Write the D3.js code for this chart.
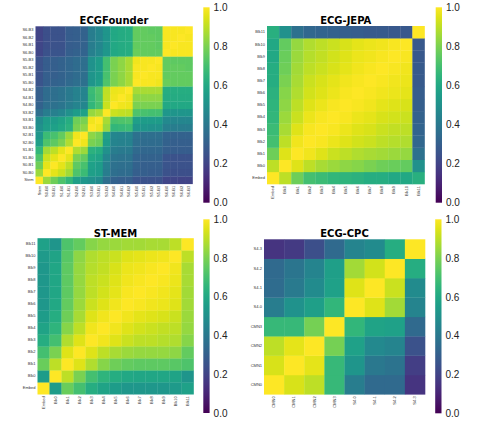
<!DOCTYPE html>
<html>
<head>
<meta charset="utf-8">
<script src="https://cdn.jsdelivr.net/npm/d3@7"></script>
<style>
body { margin: 0; background: #fff; }
svg { display: block; font-family: "DejaVu Sans", sans-serif; }
</style>
</head>
<body>
<svg id="chart" width="485" height="421"></svg>
<script>
// labels: first entry is bottom row / left column
const founderLabels = ['Stem', 'S0-B0', 'S0-B1', 'S1-B0', 'S1-B1', 'S2-B0', 'S2-B1', 'S3-B0', 'S3-B1', 'S3-B2',
  'S4-B0', 'S4-B1', 'S4-B2', 'S5-B0', 'S5-B1', 'S5-B2', 'S5-B3', 'S6-B0', 'S6-B1', 'S6-B2', 'S6-B3'];
const founderValues = [
  [1.00,0.85,0.78,0.72,0.66,0.56,0.53,0.50,0.48,0.36,0.31,0.30,0.30,0.26,0.25,0.25,0.25,0.21,0.21,0.20,0.20],
  [0.85,1.00,0.96,0.92,0.86,0.72,0.68,0.56,0.55,0.42,0.36,0.35,0.35,0.30,0.30,0.29,0.29,0.25,0.24,0.24,0.24],
  [0.78,0.96,1.00,0.96,0.90,0.75,0.71,0.57,0.55,0.43,0.37,0.36,0.36,0.31,0.30,0.30,0.30,0.26,0.25,0.25,0.25],
  [0.72,0.92,0.96,1.00,0.96,0.80,0.76,0.60,0.58,0.46,0.39,0.38,0.38,0.32,0.31,0.31,0.31,0.26,0.25,0.25,0.25],
  [0.66,0.86,0.90,0.96,1.00,0.88,0.85,0.64,0.62,0.50,0.42,0.41,0.41,0.34,0.33,0.33,0.33,0.30,0.29,0.29,0.29],
  [0.56,0.72,0.75,0.80,0.88,1.00,0.98,0.80,0.78,0.55,0.45,0.44,0.44,0.36,0.35,0.35,0.35,0.31,0.30,0.30,0.30],
  [0.53,0.68,0.71,0.76,0.85,0.98,1.00,0.83,0.80,0.57,0.46,0.45,0.45,0.37,0.36,0.36,0.36,0.32,0.31,0.31,0.31],
  [0.50,0.56,0.57,0.60,0.64,0.80,0.83,1.00,0.98,0.84,0.66,0.67,0.68,0.52,0.52,0.51,0.51,0.43,0.42,0.42,0.42],
  [0.48,0.55,0.55,0.58,0.62,0.78,0.80,0.98,1.00,0.87,0.71,0.72,0.73,0.56,0.55,0.55,0.55,0.47,0.46,0.46,0.46],
  [0.36,0.42,0.43,0.46,0.50,0.55,0.57,0.84,0.87,1.00,0.92,0.91,0.90,0.72,0.71,0.70,0.70,0.53,0.52,0.52,0.52],
  [0.31,0.36,0.37,0.39,0.42,0.45,0.46,0.66,0.71,0.92,1.00,0.98,0.97,0.80,0.80,0.80,0.80,0.60,0.60,0.60,0.60],
  [0.30,0.35,0.36,0.38,0.41,0.44,0.45,0.67,0.72,0.91,0.98,1.00,0.98,0.83,0.83,0.83,0.83,0.61,0.61,0.61,0.61],
  [0.30,0.35,0.36,0.38,0.41,0.44,0.45,0.68,0.73,0.90,0.97,0.98,1.00,0.87,0.87,0.87,0.87,0.62,0.62,0.62,0.62],
  [0.26,0.30,0.31,0.32,0.34,0.36,0.37,0.52,0.56,0.72,0.80,0.83,0.87,1.00,0.99,0.99,0.98,0.77,0.76,0.76,0.76],
  [0.25,0.30,0.30,0.31,0.33,0.35,0.36,0.52,0.55,0.71,0.80,0.83,0.87,0.99,1.00,0.99,0.99,0.76,0.76,0.76,0.76],
  [0.25,0.29,0.30,0.31,0.33,0.35,0.36,0.51,0.55,0.70,0.80,0.83,0.87,0.99,0.99,1.00,0.99,0.76,0.76,0.76,0.75],
  [0.25,0.29,0.30,0.31,0.33,0.35,0.36,0.51,0.55,0.70,0.80,0.83,0.87,0.98,0.99,0.99,1.00,0.76,0.75,0.75,0.75],
  [0.21,0.25,0.26,0.26,0.30,0.31,0.32,0.43,0.47,0.53,0.60,0.61,0.62,0.77,0.76,0.76,0.76,1.00,0.99,0.99,0.99],
  [0.21,0.24,0.25,0.25,0.29,0.30,0.31,0.42,0.46,0.52,0.60,0.61,0.62,0.76,0.76,0.76,0.75,0.99,1.00,0.99,0.99],
  [0.20,0.24,0.25,0.25,0.29,0.30,0.31,0.42,0.46,0.52,0.60,0.61,0.62,0.76,0.76,0.76,0.75,0.99,0.99,1.00,0.99],
  [0.20,0.24,0.25,0.25,0.29,0.30,0.31,0.42,0.46,0.52,0.60,0.61,0.62,0.76,0.76,0.75,0.75,0.99,0.99,0.99,1.00]
];

const jepaLabels = ['Embed', 'Blk0', 'Blk1', 'Blk2', 'Blk3', 'Blk4', 'Blk5', 'Blk6', 'Blk7', 'Blk8', 'Blk9', 'Blk10', 'Blk11'];
const jepaValues = [
  [1.00,0.90,0.78,0.70,0.68,0.66,0.65,0.64,0.62,0.62,0.60,0.60,0.63],
  [0.90,1.00,0.95,0.90,0.87,0.85,0.83,0.82,0.80,0.78,0.77,0.76,0.50],
  [0.78,0.95,1.00,0.98,0.95,0.92,0.90,0.88,0.87,0.86,0.85,0.84,0.37],
  [0.70,0.90,0.98,1.00,0.99,0.97,0.95,0.93,0.92,0.90,0.89,0.88,0.33],
  [0.68,0.87,0.95,0.99,1.00,0.99,0.97,0.95,0.94,0.92,0.91,0.90,0.32],
  [0.66,0.85,0.92,0.97,0.99,1.00,0.99,0.97,0.96,0.94,0.93,0.92,0.31],
  [0.65,0.83,0.90,0.95,0.97,0.99,1.00,0.99,0.98,0.96,0.95,0.94,0.30],
  [0.64,0.82,0.88,0.93,0.95,0.97,0.99,1.00,0.99,0.98,0.97,0.96,0.29],
  [0.62,0.80,0.87,0.92,0.94,0.96,0.98,0.99,1.00,0.99,0.98,0.97,0.28],
  [0.62,0.78,0.86,0.90,0.92,0.94,0.96,0.98,0.99,1.00,0.99,0.98,0.28],
  [0.60,0.77,0.85,0.89,0.91,0.93,0.95,0.97,0.98,0.99,1.00,0.99,0.27],
  [0.60,0.76,0.84,0.88,0.90,0.92,0.94,0.96,0.97,0.98,0.99,1.00,0.27],
  [0.63,0.50,0.37,0.33,0.32,0.31,0.30,0.29,0.28,0.28,0.27,0.27,1.00]
];

const memLabels = ['Embed', 'Blk0', 'Blk1', 'Blk2', 'Blk3', 'Blk4', 'Blk5', 'Blk6', 'Blk7', 'Blk8', 'Blk9', 'Blk10', 'Blk11'];
const memValues = [
  [1.00,0.55,0.77,0.70,0.62,0.58,0.55,0.53,0.53,0.53,0.53,0.54,0.57],
  [0.55,1.00,0.90,0.80,0.70,0.65,0.62,0.60,0.59,0.59,0.59,0.58,0.52],
  [0.77,0.90,1.00,0.95,0.88,0.82,0.78,0.76,0.75,0.75,0.75,0.74,0.72],
  [0.70,0.80,0.95,1.00,0.95,0.90,0.87,0.85,0.84,0.84,0.84,0.83,0.76],
  [0.62,0.70,0.88,0.95,1.00,0.98,0.95,0.92,0.90,0.90,0.89,0.88,0.82],
  [0.58,0.65,0.82,0.90,0.98,1.00,0.98,0.95,0.93,0.92,0.91,0.90,0.84],
  [0.55,0.62,0.78,0.87,0.95,0.98,1.00,0.98,0.96,0.95,0.94,0.92,0.85],
  [0.53,0.60,0.76,0.85,0.92,0.95,0.98,1.00,0.99,0.98,0.97,0.95,0.86],
  [0.53,0.59,0.75,0.84,0.90,0.93,0.96,0.99,1.00,0.99,0.98,0.96,0.86],
  [0.53,0.59,0.75,0.84,0.90,0.92,0.95,0.98,0.99,1.00,0.99,0.97,0.87],
  [0.53,0.59,0.75,0.84,0.89,0.91,0.94,0.97,0.98,0.99,1.00,0.98,0.87],
  [0.54,0.58,0.74,0.83,0.88,0.90,0.92,0.95,0.96,0.97,0.98,1.00,0.90],
  [0.57,0.52,0.72,0.76,0.82,0.84,0.85,0.86,0.86,0.87,0.87,0.90,1.00]
];

const cpcLabels = ['CMN0', 'CMN1', 'CMN2', 'CMN3', 'S4-0', 'S4-1', 'S4-2', 'S4-3'];
const cpcValues = [
  [1.00,0.94,0.90,0.67,0.42,0.34,0.34,0.15],
  [0.94,1.00,0.96,0.67,0.52,0.40,0.38,0.18],
  [0.90,0.96,1.00,0.79,0.57,0.47,0.45,0.25],
  [0.67,0.67,0.79,1.00,0.66,0.58,0.57,0.34],
  [0.42,0.51,0.56,0.66,1.00,0.95,0.86,0.45],
  [0.35,0.41,0.48,0.57,0.95,1.00,0.92,0.48],
  [0.34,0.39,0.45,0.56,0.86,0.93,1.00,0.62],
  [0.15,0.17,0.24,0.34,0.45,0.48,0.62,1.00]
];

const colorTicks = [0, 0.2, 0.4, 0.6, 0.8, 1.0];

const svg = d3.select('#chart');
const color = d3.scaleSequential(d3.interpolateViridis).domain([0, 1]);

// shared gradient for the colorbars
const grad = svg.append('defs').append('linearGradient')
  .attr('id', 'viridis')
  .attr('x1', 0).attr('y1', 1).attr('x2', 0).attr('y2', 0);
grad.selectAll('stop')
  .data(d3.range(0, 1.0001, 0.05))
  .join('stop')
  .attr('offset', d => d)
  .attr('stop-color', d => color(d));

const panels = [
  { title: 'ECGFounder', labels: founderLabels, values: founderValues,
    x: 35.5, y: 26.3, w: 157, h: 157.5, cbx: 203.3, cby: 7.3, cbh: 195.4, ty: 23.5 },
  { title: 'ECG-JEPA', labels: jepaLabels, values: jepaValues,
    x: 267, y: 26, w: 157.5, h: 158, cbx: 435.7, cby: 7.3, cbh: 195.4, ty: 23.5 },
  { title: 'ST-MEM', labels: memLabels, values: memValues,
    x: 37.5, y: 238.2, w: 156, h: 156, cbx: 203.3, cby: 219.3, cbh: 193.7, ty: 236.5 },
  { title: 'ECG-CPC', labels: cpcLabels, values: cpcValues,
    x: 264, y: 239.3, w: 161, h: 155, cbx: 435.2, cby: 219.3, cbh: 194, ty: 236.5 }
];

function drawHeatmap(p) {
  const g = svg.append('g');

  const xScale = d3.scaleBand().domain(p.labels).range([p.x, p.x + p.w]);
  const yScale = d3.scaleBand().domain(p.labels).range([p.y + p.h, p.y]);

  const cells = [];
  p.values.forEach((row, i) => row.forEach((v, j) => cells.push({ r: p.labels[i], c: p.labels[j], v })));

  g.selectAll('rect.cell')
    .data(cells)
    .join('rect')
    .classed('cell', true)
    .attr('x', d => xScale(d.c))
    .attr('y', d => yScale(d.r))
    .attr('width', xScale.bandwidth() + 0.3)
    .attr('height', yScale.bandwidth() + 0.3)
    .attr('fill', d => color(d.v));

  const yAxis = d3.axisLeft(yScale).tickSize(0).tickPadding(2);
  const yg = g.append('g')
    .attr('transform', `translate(${p.x}, 0)`)
    .call(yAxis);
  yg.select('.domain').remove();
  yg.selectAll('text').style('font-size', '4px').attr('fill', '#333');

  const xAxis = d3.axisBottom(xScale).tickSize(0);
  const xg = g.append('g')
    .attr('transform', `translate(0, ${p.y + p.h})`)
    .call(xAxis);
  xg.select('.domain').remove();
  xg.selectAll('text')
    .style('font-size', '4px')
    .attr('fill', '#333')
    .attr('transform', 'rotate(-90)')
    .attr('text-anchor', 'end')
    .attr('x', -2)
    .attr('y', 0)
    .attr('dy', '0.32em');

  g.append('text')
    .attr('x', p.x + p.w / 2)
    .attr('y', p.ty)
    .attr('text-anchor', 'middle')
    .style('font-size', '10px')
    .style('font-weight', 'bold')
    .text(p.title);

  // colorbar
  g.append('rect')
    .attr('x', p.cbx)
    .attr('y', p.cby)
    .attr('width', 6.3)
    .attr('height', p.cbh)
    .attr('fill', 'url(#viridis)');

  const cScale = d3.scaleLinear().domain([0, 1]).range([p.cby + p.cbh, p.cby]);
  const cg = g.append('g')
    .attr('transform', `translate(${p.cbx + 6.3}, 0)`)
    .call(d3.axisRight(cScale).tickValues(colorTicks).tickFormat(d3.format('.1f')).tickSize(0).tickPadding(4));
  cg.select('.domain').remove();
  cg.selectAll('text').style('font-size', '10px').attr('fill', '#222');
}

panels.forEach(drawHeatmap);
</script>
</body>
</html>
